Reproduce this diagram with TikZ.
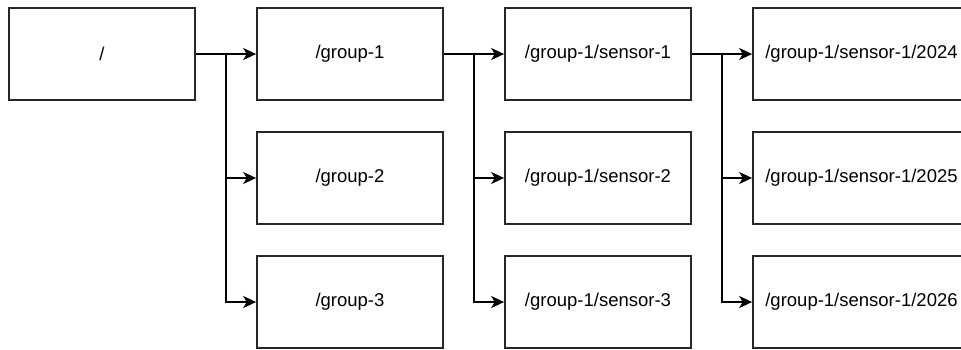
\documentclass[tikz,border=0pt]{standalone}
\usepackage{fontspec}
\setmainfont{Liberation Sans}
\usetikzlibrary{arrows.meta}
\begin{document}
\begin{tikzpicture}[x=1pt,y=-1pt,
  box/.style={draw=black!85,line width=1.6pt,rectangle,minimum width=186pt,minimum height=92pt,inner sep=0pt,font=\fontsize{18.5}{22}\selectfont,anchor=center},
  widebox/.style={box,minimum width=217pt},
  conn/.style={line width=1.6pt,-{Stealth[length=13pt,width=12pt,inset=3.5pt]}}]
\useasboundingbox (0,0) rectangle (961,349);
\node[box] (root) at (102,54) {/};
\node[box] (g1) at (350,54) {/group-1};
\node[box] (g2) at (350,178) {/group-2};
\node[box] (g3) at (350,302) {/group-3};
\node[box] (s1) at (598,54) {/group-1/sensor-1};
\node[box] (s2) at (598,178) {/group-1/sensor-2};
\node[box] (s3) at (598,302) {/group-1/sensor-3};
\node[widebox] (y1) at (861.5,54) {/group-1/sensor-1/2024};
\node[widebox] (y2) at (861.5,178) {/group-1/sensor-1/2025};
\node[widebox] (y3) at (861.5,302) {/group-1/sensor-1/2026};
\coordinate (b1) at (226,54);
\coordinate (b2) at (474,54);
\coordinate (b3) at (722,54);
\draw[conn] (root.east) -- (b1) -- (g1.west);
\draw[conn] (b1) |- (g2.west);
\draw[conn] (b1) |- (g3.west);
\draw[conn] (g1.east) -- (b2) -- (s1.west);
\draw[conn] (b2) |- (s2.west);
\draw[conn] (b2) |- (s3.west);
\draw[conn] (s1.east) -- (b3) -- (y1.west);
\draw[conn] (b3) |- (y2.west);
\draw[conn] (b3) |- (y3.west);
\end{tikzpicture}
\end{document}
